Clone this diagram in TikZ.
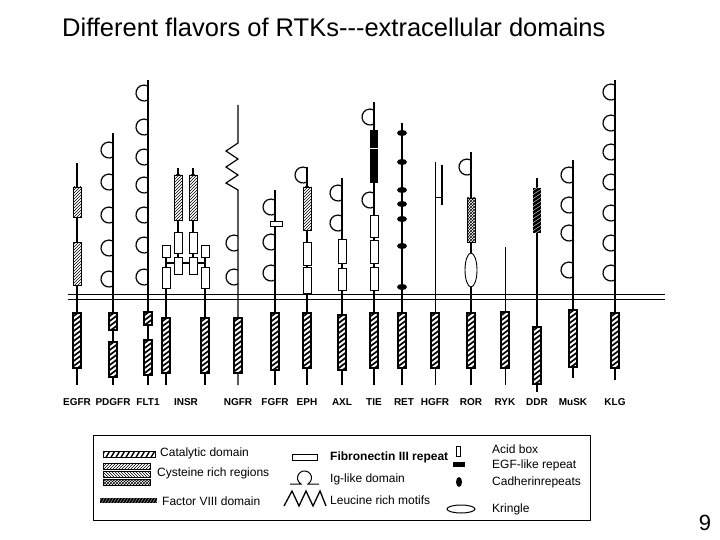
\documentclass[tikz,border=0pt]{standalone}
\usepackage{fontspec}
\setmainfont{Liberation Sans}
\usetikzlibrary{patterns}
\newcommand\ig[2]{\draw[ln] (#1,#2+6.93) arc(60:300:8);}
\newcommand\cat[3]{\fill[white] (#1-4,#2) rectangle (#1+4,#3);
 \begin{scope}\clip (#1-4,#2) rectangle (#1+4,#3);
 \foreach \k in {0,...,16}{\draw[line width=1.7pt] (#1-6,#2+\k*5) -- (#1+6,#2+\k*5-9);}\end{scope}
 \draw[line width=1.1pt] (#1-4,#2) rectangle (#1+4,#3);}
\newcommand\cys[3]{\fill[white] (#1-4,#2) rectangle (#1+4,#3);
 \fill[pattern=north east lines] (#1-4,#2) rectangle (#1+4,#3);
 \draw[line width=.9pt] (#1-4,#2) rectangle (#1+4,#3);}
\newcommand\fn[3]{\filldraw[fill=white,line width=.9pt] (#1-4,#2) rectangle (#1+4,#3);}
\newcommand\cad[2]{\fill (#1,#2) ellipse (5 and 3);}
\begin{document}
\begin{tikzpicture}[x=1pt,y=-1pt,ln/.style={line width=1.2pt},
 lab/.style={font=\fontsize{10}{11}\selectfont\bfseries,inner sep=0pt},
 leg/.style={font=\fontsize{12}{13}\selectfont,anchor=west,inner sep=0pt}]
\useasboundingbox (0,0) rectangle (720,540);
\node[font=\fontsize{25.5}{28}\selectfont,anchor=west,inner sep=0pt] (title) at (62,27) {Different flavors of RTKs{-}{-}{-}extracellular domains};
\node[font=\fontsize{22}{24}\selectfont] (pg) at (705,523) {9};
% membrane
\draw[line width=1.2pt] (68,294.5) -- (665,294.5);
\draw[line width=1.2pt] (68,299.5) -- (665,299.5);
% EGFR
\draw[ln] (77,163) -- (77,385); \cys{77}{187}{217}\cys{77}{242}{285}\cat{77}{313}{368}
% PDGFR
\draw[ln] (113,133) -- (113,385); \foreach \y in {150,182,215,248,279}{\ig{113}{\y}}
\cat{113}{313}{330}\cat{113}{342}{377}
% FLT1
\draw[ln] (148,80) -- (148,385); \foreach \y in {93,127,157,185,215,245,277}{\ig{148}{\y}}
\cat{148}{312}{325}\cat{148}{340}{375}
% INSR
\draw[ln] (166,245) -- (166,385); \draw[ln] (205,245) -- (205,385);
\draw[ln] (178,168) -- (178,263); \draw[ln] (193,168) -- (193,263);
\draw[ln] (166,263) -- (205,263);
\fn{166}{245}{257}\fn{205}{245}{257}\fn{166}{267}{288}\fn{205}{267}{288}
\cys{178}{175}{220}\cys{193}{175}{220}\fn{178}{232}{253}\fn{193}{232}{253}
\fn{178}{257}{274}\fn{193}{257}{274}
\cat{166}{318}{373}\cat{205}{318}{373}
% NGFR
\draw[ln] (238,105) -- (238,143) -- (226,151) -- (238,159) -- (226,167) -- (238,175) -- (226,183) -- (238,190) -- (238,385);
\ig{238}{243}\ig{238}{277}\cat{238}{318}{373}
% FGFR
\draw[ln] (275,190) -- (275,385); \ig{275}{207}\ig{275}{242}\ig{275}{273}
\filldraw[fill=white,line width=.9pt] (270,221) rectangle (282,226);
\cat{275}{313}{370}
% EPH
\draw[ln] (307,167) -- (307,385); \ig{307}{175}\cys{307}{187}{230}\fn{307}{242}{265}\fn{307}{267}{293}
\cat{307}{313}{368}
% AXL
\draw[ln] (342,178) -- (342,385); \ig{342}{193}\ig{342}{223}\fn{342}{239}{263}\fn{342}{268}{290}
\cat{342}{315}{370}
% TIE
\draw[ln] (374,102) -- (374,385); \ig{374}{117}
\fill (370,130) rectangle (378,183); \draw[white,line width=.6pt] (370,148) -- (378,148);
\ig{374}{200}\fn{374}{215}{237}\fn{374}{240}{263}\fn{374}{267}{290}
\cat{374}{313}{368}
% RET
\draw[line width=1.5pt] (402,123) -- (402,385);
\foreach \y in {133,162,190,204,219,246,287}{\cad{402}{\y}}
\cat{402}{313}{368}
% HGFR
\draw[line width=.9pt] (435,162) -- (435,385); \draw[line width=.9pt] (435,197) -- (442,197);
\draw[line width=1.2pt] (442,165) -- (442,205);
\cat{435}{313}{368}
% ROR
\draw[ln] (471,152) -- (471,385); \ig{471}{167}
\fill[white] (467,198) rectangle (475,242);
\fill[pattern=crosshatch] (467,198) rectangle (475,242);
\draw[line width=.9pt] (467,198) rectangle (475,242);
\filldraw[fill=white,line width=.9pt] (471,270) ellipse (6 and 17);
\cat{471}{313}{368}
% RYK
\draw[line width=.9pt] (505,247) -- (505,385); \cat{505}{312}{368}
% DDR
\draw[ln] (537,178) -- (537,392);
\fill (533,188) rectangle (541,233);
\begin{scope}\clip (533,188) rectangle (541,233);
\foreach \k in {0,...,12}{\draw[white,line width=.3pt] (531,188+\k*4) -- (543,188+\k*4-8);}\end{scope}
\cat{537}{327}{384}
% MuSK
\draw[ln] (573,160) -- (573,378); \foreach \y in {175,205,233,270}{\ig{573}{\y}}
\cat{573}{310}{367}
% KLG
\draw[ln] (615,80) -- (615,380); \foreach \y in {92,123,152,182,213,243,273}{\ig{615}{\y}}
\cat{615}{313}{368}
% labels
\foreach \x/\t in {77/EGFR,113/PDGFR,148/FLT1,186/INSR,238/NGFR,275/FGFR,307/EPH,342/AXL,374/TIE,404/RET,435/HGFR,471/ROR,505/RYK,537/DDR,573/MuSK,615/KLG}{\node[lab] at (\x,402) {\t};}
% legend
\draw[line width=1pt] (93,435) rectangle (590,520);
\begin{scope}\clip (103,451) rectangle (155,457);
\foreach \k in {0,...,12}{\draw[line width=1.4pt] (100+\k*5,459) -- (106+\k*5,449);}\end{scope}
\draw[line width=.8pt] (103,451) rectangle (155,457);
\node[leg] at (160,453) {Catalytic domain};
\fill[pattern=north east lines] (103,463) rectangle (150,469); \draw[line width=.7pt] (103,463) rectangle (150,469);
\fill[pattern=north west lines] (103,471) rectangle (150,477); \draw[line width=.7pt] (103,471) rectangle (150,477);
\fill[pattern=crosshatch] (103,479) rectangle (150,485); \draw[line width=.7pt] (103,479) rectangle (150,485);
\node[leg] at (157,473) {Cysteine rich regions};
\fill (100,498) rectangle (157,503);
\begin{scope}\clip (100,498) rectangle (157,503);
\foreach \k in {0,...,20}{\draw[white,line width=.3pt] (98+\k*3,504) -- (102+\k*3,497);}\end{scope}
\node[leg] at (162,501) {Factor VIII domain};
\draw[line width=1pt] (292,454) rectangle (317,460);
\node[leg,font=\fontsize{12}{13}\selectfont\bfseries] at (330,457) {Fibronectin III repeat};
\draw[line width=1pt] (290,484) -- (301,484) arc(120:420:7) -- (319,484);
\node[leg] at (330,479) {Ig-like domain};
\draw[line width=1.3pt] (284,506) -- (292,491) -- (299,506) -- (306,491) -- (313,506) -- (320,491) -- (326,506);
\node[leg] at (330,500) {Leucine rich motifs};
\draw[line width=1pt] (456,446) rectangle (460,456);
\node[leg] at (492,449) {Acid box};
\fill (453,462) rectangle (465,467);
\node[leg] at (492,465) {EGF-like repeat};
\fill (459,482) ellipse (3 and 5);
\node[leg] at (492,482) {Cadherinrepeats};
\draw[line width=1pt] (461,509) ellipse (14 and 4);
\node[leg] at (492,509) {Kringle};
\end{tikzpicture}
\end{document}
